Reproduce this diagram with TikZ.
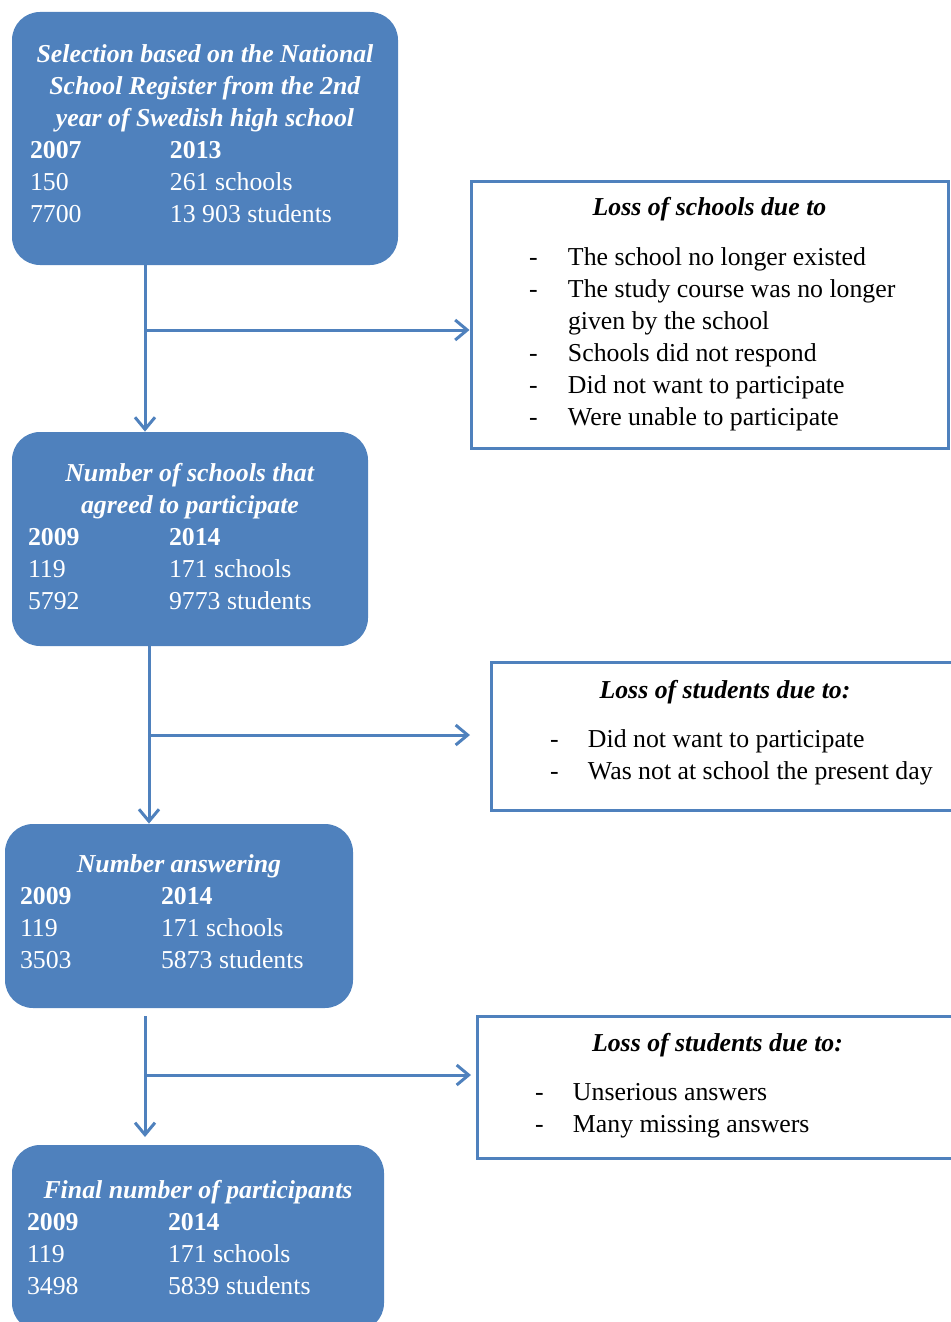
\documentclass[tikz,border=0pt]{standalone}
\usepackage{fontspec}
\setmainfont{Liberation Serif}
\usetikzlibrary{arrows.meta}
\definecolor{boxblue}{RGB}{79,129,189}
\tikzset{
	bluebox/.style={fill=boxblue,text=white,rounded corners=14pt,inner sep=0pt},
	lossbox/.style={draw=boxblue,line width=1.5pt,fill=white,text=black,inner sep=0pt},
	flow/.style={draw=boxblue,line width=1.5pt,-{Straight Barb[length=6pt,width=10pt]}}
}
\begin{document}
\begin{tikzpicture}[x=0.5pt,y=-0.5pt,every node/.style={font=\fontsize{12.9pt}{16pt}\selectfont}]
			\useasboundingbox (0,0) rectangle (951,1322);
			\node[bluebox,minimum width=193pt,minimum height=126.5pt] (selection) at (205,138.5) {\begin{tabular}{@{}p{70pt}@{}p{105pt}@{}}
				\multicolumn{2}{@{}c@{}}{\textbf{\textit{Selection based on the National}}}\\
				\multicolumn{2}{@{}c@{}}{\textbf{\textit{School Register from the 2nd}}}\\
				\multicolumn{2}{@{}c@{}}{\textbf{\textit{year of Swedish high school}}}\\
				\textbf{2007} & \textbf{2013}\\
				150 & 261 schools\\
				7700 & 13 903 students\\[2.5pt]
			\end{tabular}};
			\node[bluebox,minimum width=178pt,minimum height=107pt] (agreed) at (190,539) {\begin{tabular}{@{}p{70.5pt}@{}p{91.5pt}@{}}
				\multicolumn{2}{@{}c@{}}{\textbf{\textit{Number of schools that}}}\\
				\multicolumn{2}{@{}c@{}}{\textbf{\textit{agreed to participate}}}\\
				\textbf{2009} & \textbf{2014}\\
				119 & 171 schools\\
				5792 & 9773 students\\
			\end{tabular}};
			\node[bluebox,minimum width=174pt,minimum height=92pt] (answering) at (179,916) {\begin{tabular}{@{}p{70.5pt}@{}p{88.5pt}@{}}
				\multicolumn{2}{@{}c@{}}{\textbf{\textit{Number answering}}}\\
				\textbf{2009} & \textbf{2014}\\
				119 & 171 schools\\
				3503 & 5873 students\\[2pt]
			\end{tabular}};
			\node[bluebox,minimum width=186pt,minimum height=93pt] (final) at (198,1238) {\begin{tabular}{@{}p{70.5pt}@{}p{100.5pt}@{}}
				\multicolumn{2}{@{}c@{}}{\textbf{\textit{Final number of participants}}}\\
				\textbf{2009} & \textbf{2014}\\
				119 & 171 schools\\
				3498 & 5839 students\\[-2pt]
			\end{tabular}};
			
			\node[lossbox,minimum width=238.5pt,minimum height=133.5pt] (lossschools) at (709.5,314.5) {\begin{tabular}{@{}p{19.5pt}@{}p{161pt}@{}}
				\multicolumn{2}{@{}c@{}}{\textbf{\textit{Loss of schools due to}}}\\[9pt]
				- & \mbox{The school no longer existed}\\
				- & \mbox{The study course was no longer}\\
				& \mbox{given by the school}\\
				- & \mbox{Schools did not respond}\\
				- & \mbox{Did not want to participate}\\
				- & \mbox{Were unable to participate}\\
			\end{tabular}};
			\node[lossbox,minimum width=234pt,minimum height=74pt] (lossstudents) at (725,736) {\begin{tabular}{@{}p{19pt}@{}p{156pt}@{}}
				\multicolumn{2}{@{}c@{}}{\textbf{\textit{Loss of students due to:}}}\\[8.5pt]
				- & \mbox{Did not want to participate}\\
				- & \mbox{Was not at school the present day}\\[3.5pt]
			\end{tabular}};
			\node[lossbox,minimum width=240.5pt,minimum height=71pt] (lossanswers) at (717.5,1087) {\begin{tabular}{@{}p{19pt}@{}p{163.5pt}@{}}
				\multicolumn{2}{@{}c@{}}{\textbf{\textit{Loss of students due to:}}}\\[8.5pt]
				- & \mbox{Unserious answers}\\
				- & \mbox{Many missing answers}\\[1pt]
			\end{tabular}};
			
			\coordinate (s1) at (145,245);
			\coordinate (j1) at (145,330);
			\coordinate (s2) at (149,646);
			\coordinate (j2) at (149,735);
			\coordinate (e2) at (470,735);
			\coordinate (s3) at (145,1016);
			\coordinate (j3) at (145,1075);
			\coordinate (t3) at (145,1137);
			\coordinate (e3) at (471,1075);
			
			\draw[flow] (s1) to (s1 |- agreed.north);
			\draw[flow] (j1) to (j1 -| lossschools.west);
			\draw[flow] (s2) to (s2 |- answering.north);
			\draw[flow] (j2) to (e2);
			\draw[flow] (s3) to (t3);
			\draw[flow] (j3) to (e3);
\end{tikzpicture}
\end{document}
